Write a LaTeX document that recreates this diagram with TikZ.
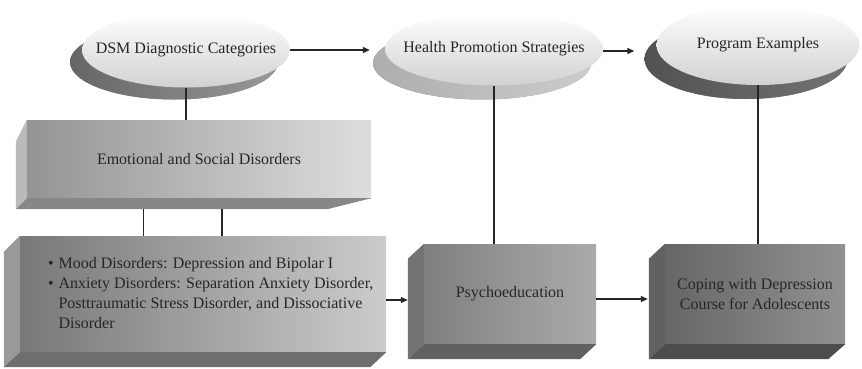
\documentclass[tikz,border=0pt]{standalone}
\usepackage{fontspec}
\setmainfont{Liberation Serif}
\usetikzlibrary{shapes.geometric,arrows.meta,positioning,calc,shadows}
\newcommand{\chartfont}{\fontsize{16}{20}\selectfont}
\tikzset{
  oval/.style={ellipse, inner sep=0pt, text=black!85, font=\chartfont,
    top color=white, middle color=white, bottom color=black!18},
  face/.style={rectangle, inner sep=0pt, text=black!85, font=\chartfont, align=center},
  link/.style={line width=1.2pt, black!85},
  flow/.style={line width=1.2pt, black!85, -{Triangle[length=7pt,width=6pt]}}
}
\begin{document}
\begin{tikzpicture}[x=1pt,y=-1pt]
  \useasboundingbox (0,0) rectangle (862,368);

  % Ovals
  \node[oval, minimum width=208pt, minimum height=75pt,
    drop shadow={shadow xshift=-12pt, shadow yshift=-12pt, left color=black!60, right color=black!40, opacity=1}]
    (dsm) at (186,50) {\makebox[0pt]{DSM Diagnostic Categories}};
  \node[oval, minimum width=218pt, minimum height=73pt,
    drop shadow={shadow xshift=-12pt, shadow yshift=-14pt, left color=black!32, right color=black!20, opacity=1}]
    (hps) at (494,49) {\makebox[0pt]{Health Promotion Strategies}};
  \node[oval, minimum width=203pt, minimum height=80pt,
    drop shadow={shadow xshift=-12pt, shadow yshift=-14pt, left color=black!68, right color=black!55, opacity=1}]
    (pex) at (758,45) {\makebox[0pt]{Program Examples}};

  % Arrows between ovals
  \draw[flow, shorten >=15pt] (dsm.east) -- (dsm.east -| hps.west);
  \draw[flow, shorten >=22pt] ([yshift=-2pt]hps.east) -- ([yshift=-2pt]hps.east -| pex.west);

  % Box: Emotional and Social Disorders
  \node[face, minimum width=344pt, minimum height=78pt, left color=black!42, right color=black!13]
    (emo) at (199,159) {Emotional and Social Disorders};
  \fill[black!27] (emo.north west) -- ++(-11,22) -- ($(emo.south west)+(-11,11)$) -- (emo.south west) -- cycle;
  \fill[black!47] (emo.south west) -- ++(-11,11) -- ($(emo.south east)+(-44,11)$) -- (emo.south east) -- cycle;

  % Box: disorder list
  \node[face, minimum width=366pt, minimum height=116pt, left color=black!53, right color=black!20]
    (dis) at (203,294) {};
  \fill[black!40] (dis.north west) -- ++(-16,16) -- ($(dis.south west)+(-16,15)$) -- (dis.south west) -- cycle;
  \fill[black!57] (dis.south west) -- ++(-16,15) -- ($(dis.south east)+(-16,15)$) -- (dis.south east) -- cycle;
  \node[anchor=west, inner sep=0pt, text=black!85, font=\chartfont] (distext) at ($(dis.west)+(28,0)$)
    {\begin{tabular}{@{}l@{\hspace{5pt}}l@{}}
      \textbullet & Mood Disorders: Depression and Bipolar I\\
      \textbullet & Anxiety Disorders: Separation Anxiety Disorder,\\
       & Posttraumatic Stress Disorder, and Dissociative\\
       & Disorder
     \end{tabular}};

  % Box: Psychoeducation
  \node[face, minimum width=172pt, minimum height=100pt, left color=black!50, right color=black!33]
    (psy) at (510,294) {Psychoeducation};
  \fill[black!55] (psy.north west) -- ++(-16,15) -- ($(psy.south west)+(-16,15)$) -- (psy.south west) -- cycle;
  \fill[black!62] (psy.south west) -- ++(-16,15) -- ($(psy.south east)+(-16,15)$) -- (psy.south east) -- cycle;

  % Box: Coping with Depression
  \node[face, minimum width=180pt, minimum height=100pt, left color=black!60, right color=black!43]
    (cop) at (755,294) {Coping with Depression\\Course for Adolescents};
  \fill[black!62] (cop.north west) -- ++(-16,15) -- ($(cop.south west)+(-16,15)$) -- (cop.south west) -- cycle;
  \fill[black!70] (cop.south west) -- ++(-16,15) -- ($(cop.south east)+(-17,15)$) -- (cop.south east) -- cycle;

  % Vertical links
  \draw[link] (dsm.south) -- (dsm.south |- emo.north);
  \draw[link] (hps.south) -- (hps.south |- psy.north);
  \draw[link] (pex.south) -- (pex.south |- cop.north);
  \coordinate (emoA) at ($(emo.south west)!0.34!(emo.south east)+(0,11)$);
  \coordinate (emoB) at ($(emo.south west)!0.567!(emo.south east)+(0,11)$);
  \draw[link] (emoA) -- (emoA |- dis.north);
  \draw[link] (emoB) -- (emoB |- dis.north);

  % Arrows between boxes
  \draw[flow, shorten >=16pt] ([yshift=-6pt]dis.east) -- ([yshift=-6pt]dis.east -| psy.west);
  \draw[flow, shorten >=17pt] ([yshift=-5pt]psy.east) -- ([yshift=-5pt]psy.east -| cop.west);
\end{tikzpicture}
\end{document}
